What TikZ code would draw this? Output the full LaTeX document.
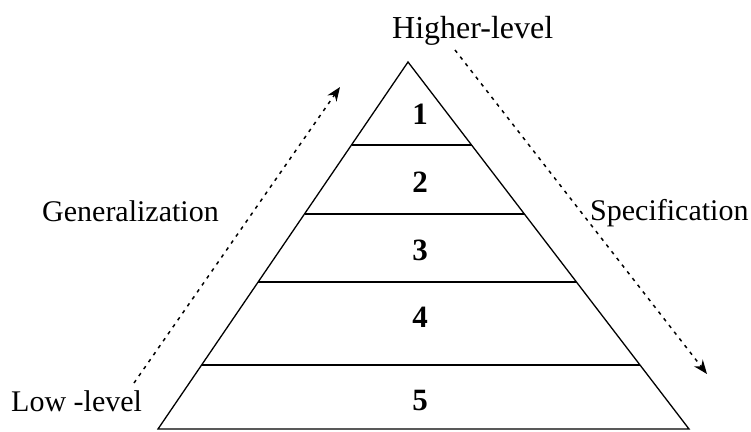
\documentclass[tikz,border=0pt]{standalone}
\usepackage{fontspec}
\setmainfont{Liberation Serif}
\usetikzlibrary{arrows.meta,calc}
\tikzset{
  edgeline/.style={
    line width=1.3pt,
    line join=miter
  },
  levelline/.style={
    line width=1.4pt
  },
  sidelabel/.style={
    font=\fontsize{30}{34}\selectfont,
    inner sep=0pt,
    anchor=base west
  },
  levelnum/.style={
    font=\fontsize{31}{36}\selectfont\bfseries,
    inner sep=0pt
  },
  flowarrow/.style={
    -{Stealth[length=14pt,width=11pt]},
    line width=1.5pt,
    dash pattern=on 3.5pt off 5pt
  }
}

\begin{document}
\begin{tikzpicture}[x=1pt,y=-1pt]
\useasboundingbox (0,0) rectangle (751,431);
% pyramid
\coordinate (apex) at (408,62);
\coordinate (bl) at (158,429);
\coordinate (br) at (689,429);
\draw[edgeline] (apex) -- (bl) -- (br) -- cycle;
\draw[levelline] ($(apex)!0.226!(bl)$) -- ($(apex)!0.226!(br)$);
\draw[levelline] ($(apex)!0.414!(bl)$) -- ($(apex)!0.414!(br)$);
\draw[levelline] ($(apex)!0.599!(bl)$) -- ($(apex)!0.599!(br)$);
\draw[levelline] ($(apex)!0.826!(bl)$) -- ($(apex)!0.826!(br)$);
\node[levelnum] (n1) at (420,114) {1};
\node[levelnum] (n2) at (420,182) {2};
\node[levelnum] (n3) at (420,250) {3};
\node[levelnum] (n4) at (420,317) {4};
\node[levelnum] (n5) at (420,400) {5};
% labels
\node[sidelabel, font=\fontsize{32}{36}\selectfont] (high) at (392,38) {Higher-level};
\node[sidelabel] (low) at (11,411) {Low -level};
\node[sidelabel] (gen) at (42,221) {Generalization};
\node[sidelabel] (spec) at (590,220) {Specification};
% arrows
\coordinate (genstart) at (134,383);
\coordinate (genend) at (340,87);
\coordinate (specstart) at (455,50);
\coordinate (specend) at (707,374);
\draw[flowarrow] (genstart) -- (genend);
\draw[flowarrow] (specstart) -- (specend);
\end{tikzpicture}
\end{document}
